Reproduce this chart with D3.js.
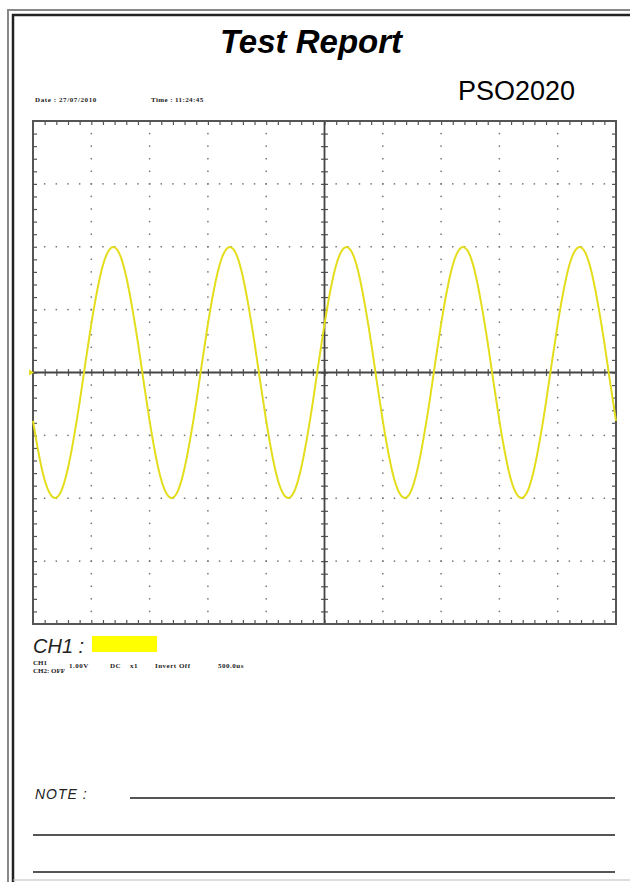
<!DOCTYPE html>
<html>
<head>
<meta charset="utf-8">
<script src="https://cdn.jsdelivr.net/npm/d3@7"></script>
<style>
	body{margin:0;background:#fff;}
	svg{display:block;}
	.tiny{font-family:'Liberation Serif',serif;font-weight:bold;font-size:7px;fill:#222;}
</style>
</head>
<body>
<svg class="chart"></svg>
<script>
var width = 630,
	height = 882;

//Scope settings
var voltPerDiv = 1.0,
	timePerDiv = 500,	//us
	sampleStep = 50,	//us
	divsX = 10,
	divsY = 8,
	minorPerDiv = 5;

//CH1 samples (V), one every 50us
var ch1Volts = [
	-0.77,-1.30,-1.71,-1.94,-1.99,-1.85,-1.52,-1.04,-0.47,0.16,
	0.77,1.30,1.71,1.94,1.99,1.85,1.52,1.04,0.47,-0.16,
	-0.77,-1.30,-1.71,-1.94,-1.99,-1.85,-1.52,-1.04,-0.47,0.16,
	0.77,1.30,1.71,1.94,1.99,1.85,1.52,1.04,0.47,-0.16,
	-0.77,-1.30,-1.71,-1.94,-1.99,-1.85,-1.52,-1.04,-0.47,0.16,
	0.77,1.30,1.71,1.94,1.99,1.85,1.52,1.04,0.47,-0.16,
	-0.77,-1.30,-1.71,-1.94,-1.99,-1.85,-1.52,-1.04,-0.47,0.16,
	0.77,1.30,1.71,1.94,1.99,1.85,1.52,1.04,0.47,-0.16,
	-0.77,-1.30,-1.71,-1.94,-1.99,-1.85,-1.52,-1.04,-0.47,0.16,
	0.77,1.30,1.71,1.94,1.99,1.85,1.52,1.04,0.47,-0.16,
	-0.77
];

//Texts
var titleText = 'Test Report',
	modelText = 'PSO2020',
	dateText = 'Date : 27/07/2010',
	timeText = 'Time : 11:24:45',
	ch1Label = 'CH1 :',
	ch1Info = ['CH1', '1.00V', 'DC', 'x1', 'Invert Off', '500.0us'],
	ch2Info = 'CH2: OFF',
	noteLabel = 'NOTE :';

var plot = {left:33, right:616, top:121, bottom:624};

var xScale = d3.scaleLinear()
			.domain([0, timePerDiv*divsX])
			.range([plot.left, plot.right]);

var yScale = d3.scaleLinear()
			.domain([-voltPerDiv*divsY/2, voltPerDiv*divsY/2])
			.range([plot.bottom, plot.top]);

var chart = d3.select('.chart')
			.attr('width', width)
			.attr('height', height);

//Page frame (double line)
chart.append('path')
	.attr('d', 'M8,'+height+' V10 H'+(width+2))
	.attr('fill', 'none')
	.attr('stroke', '#888')
	.attr('stroke-width', 2);
chart.append('path')
	.attr('d', 'M13,'+height+' V15 H'+(width+2))
	.attr('fill', 'none')
	.attr('stroke', '#222')
	.attr('stroke-width', 2.5);
chart.append('line')
	.attr('x1', 13).attr('x2', width)
	.attr('y1', 880).attr('y2', 880)
	.attr('stroke', '#bbb')
	.attr('stroke-width', 1);

//Header
chart.append('text')
	.text(titleText)
	.attr('x', 311)
	.attr('y', 53)
	.attr('text-anchor', 'middle')
	.attr('font-family', "'Liberation Sans', Arial, sans-serif")
	.attr('font-weight', 'bold')
	.attr('font-style', 'italic')
	.attr('font-size', 33)
	.attr('fill', '#000');

chart.append('text')
	.text(modelText)
	.attr('x', 458)
	.attr('y', 100)
	.attr('font-family', "'Liberation Sans', Arial, sans-serif")
	.attr('font-size', 27)
	.attr('fill', '#000');

chart.append('text').attr('class', 'tiny').attr('x', 35).attr('y', 102)
	.attr('letter-spacing', 0.6).text(dateText);
chart.append('text').attr('class', 'tiny').attr('x', 151).attr('y', 102)
	.attr('letter-spacing', 0.4).text(timeText);

//Grid dots
var majorX = d3.range(1, divsX).filter(i=>i != divsX/2).map(i=>i*timePerDiv);
var majorY = d3.range(1, divsY).filter(i=>i != divsY/2).map(i=>(i-divsY/2)*voltPerDiv);
var minorT = d3.range(1, divsX*minorPerDiv).map(i=>i*timePerDiv/minorPerDiv);
var minorV = d3.range(1, divsY*minorPerDiv).map(i=>(i-divsY*minorPerDiv/2)*voltPerDiv/minorPerDiv);

var dots = [];
majorX.forEach(t=>minorV.forEach(v=>dots.push([t, v])));
majorY.forEach(v=>minorT.forEach(t=>dots.push([t, v])));

chart.append('g')
	.selectAll('rect')
	.data(dots)
	.enter()
	.append('rect')
	.attr('x', d=>xScale(d[0])-0.75)
	.attr('y', d=>yScale(d[1])-0.75)
	.attr('width', 1.5)
	.attr('height', 1.5)
	.attr('fill', '#777');

//Border ticks
function tickAxis(gen, tx, ty, size, vals){
	var g = chart.append('g')
		.attr('transform', 'translate('+tx+','+ty+')')
		.call(gen.tickValues(vals).tickSize(size).tickSizeOuter(0).tickFormat(''));
	g.select('.domain').remove();
	g.selectAll('line').attr('stroke', '#555').attr('stroke-width', 1.2);
}
tickAxis(d3.axisBottom(xScale), 0, plot.top, 4, minorT);
tickAxis(d3.axisTop(xScale), 0, plot.bottom, 4, minorT);
tickAxis(d3.axisRight(yScale), plot.left, 0, 4, minorV);
tickAxis(d3.axisLeft(yScale), plot.right, 0, 4, minorV);

//Centre axes
var cx = xScale(timePerDiv*divsX/2), cy = yScale(0);
tickAxis(d3.axisBottom(xScale), 0, cy, 3.5, minorT);
tickAxis(d3.axisTop(xScale), 0, cy, 3.5, minorT);
tickAxis(d3.axisRight(yScale), cx, 0, 3.5, minorV);
tickAxis(d3.axisLeft(yScale), cx, 0, 3.5, minorV);

chart.append('line')
	.attr('x1', plot.left).attr('x2', plot.right)
	.attr('y1', cy).attr('y2', cy)
	.attr('stroke', '#444').attr('stroke-width', 1.8);
chart.append('line')
	.attr('x1', cx).attr('x2', cx)
	.attr('y1', plot.top).attr('y2', plot.bottom)
	.attr('stroke', '#444').attr('stroke-width', 1.8);

//Frame
chart.append('rect')
	.attr('x', plot.left)
	.attr('y', plot.top)
	.attr('width', plot.right-plot.left)
	.attr('height', plot.bottom-plot.top)
	.attr('fill', 'none')
	.attr('stroke', '#555')
	.attr('stroke-width', 2);

//Trace
var line = d3.line()
			.x((d,i)=>xScale(i*sampleStep))
			.y(d=>yScale(d))
			.curve(d3.curveNatural);

chart.append('path')
	.datum(ch1Volts)
	.attr('d', line)
	.attr('fill', 'none')
	.attr('stroke', '#e3dd1c')
	.attr('stroke-width', 2);

//Ground marker
chart.append('path')
	.attr('d', 'M'+(plot.left-4)+','+(cy-3)+' L'+(plot.left+1)+','+cy+' L'+(plot.left-4)+','+(cy+3)+' Z')
	.attr('fill', '#e3dd1c');

//Channel info
chart.append('text')
	.text(ch1Label)
	.attr('x', 33)
	.attr('y', 653)
	.attr('font-family', "'Liberation Sans', Arial, sans-serif")
	.attr('font-style', 'italic')
	.attr('font-size', 20)
	.attr('fill', '#222');

chart.append('rect')
	.attr('x', 92)
	.attr('y', 636)
	.attr('width', 65)
	.attr('height', 16)
	.attr('fill', '#ffff00');

chart.append('text').attr('class', 'tiny').attr('x', 33).attr('y', 665).text(ch1Info[0]);
chart.append('text').attr('class', 'tiny').attr('x', 33).attr('y', 673).text(ch2Info);
var infoX = [69, 110, 130, 155, 218];
ch1Info.slice(1).forEach(function(t, i){
	chart.append('text').attr('class', 'tiny').attr('x', infoX[i]).attr('y', 668)
		.attr('letter-spacing', 0.5).text(t);
});

//Notes
chart.append('text')
	.text(noteLabel)
	.attr('x', 35)
	.attr('y', 799)
	.attr('font-family', "'Liberation Sans', Arial, sans-serif")
	.attr('font-style', 'italic')
	.attr('font-size', 14)
	.attr('letter-spacing', 1)
	.attr('fill', '#222');

var noteLines = [[130, 798], [33, 835], [33, 872]];
chart.selectAll('.note-line')
	.data(noteLines)
	.enter()
	.append('line')
	.attr('class', 'note-line')
	.attr('x1', d=>d[0])
	.attr('x2', 615)
	.attr('y1', d=>d[1])
	.attr('y2', d=>d[1])
	.attr('stroke', '#555')
	.attr('stroke-width', 2);
</script>
</body>
</html>
